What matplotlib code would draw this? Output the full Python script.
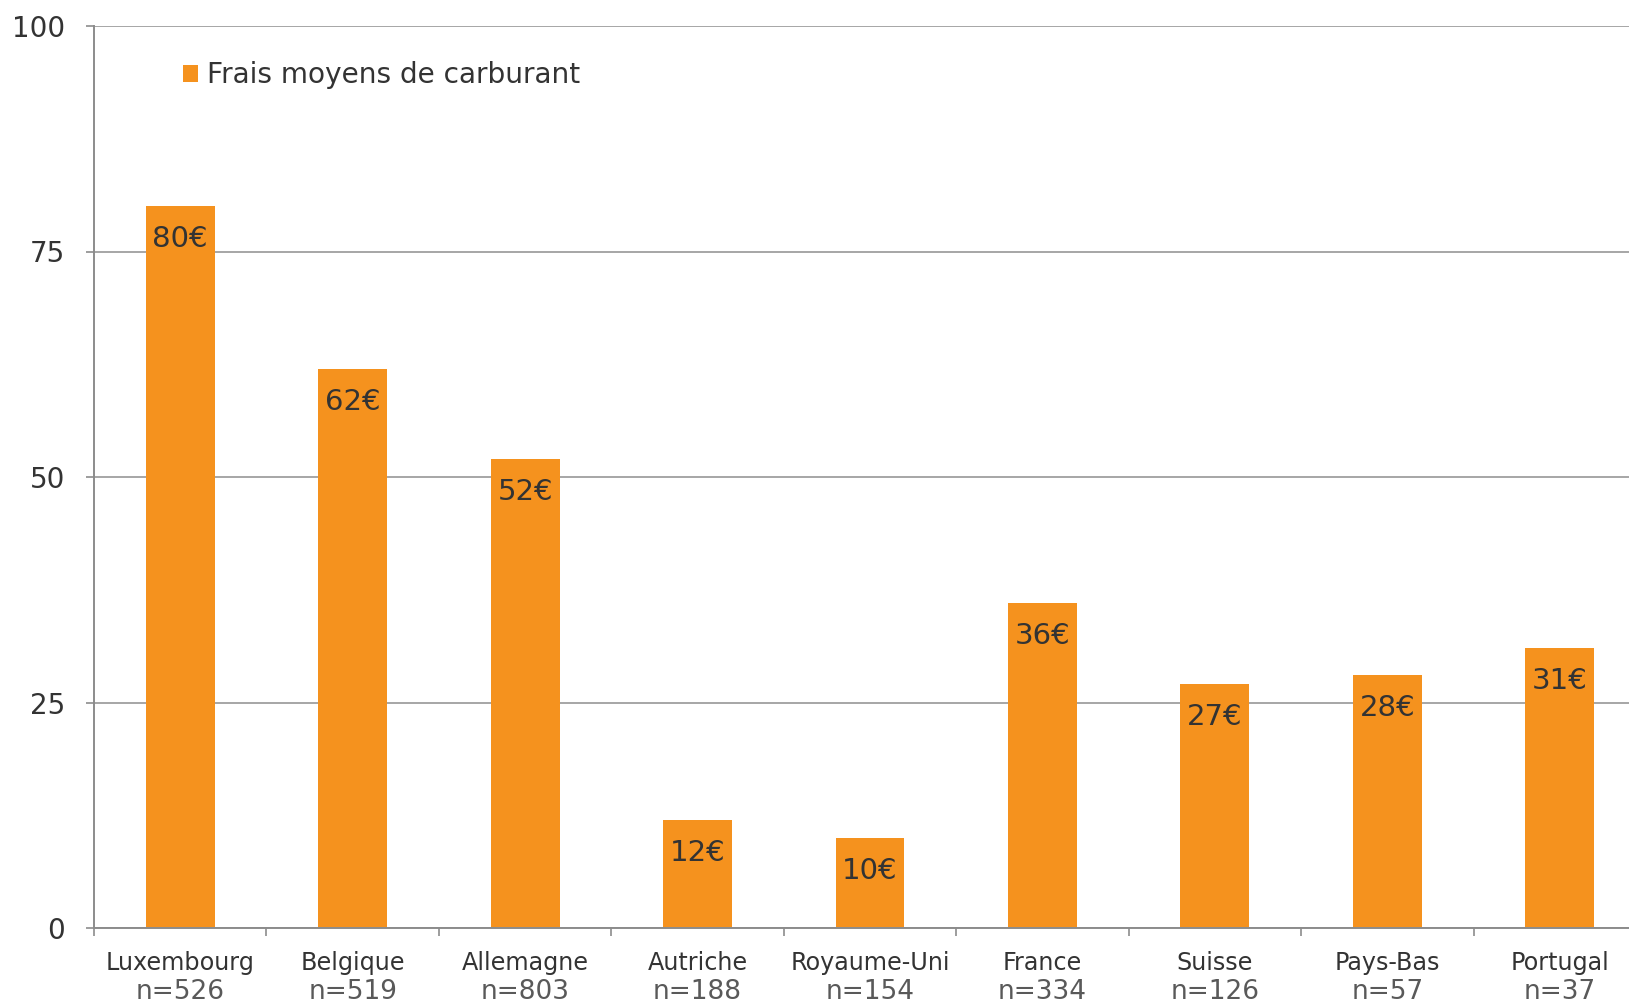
import matplotlib
matplotlib.use("Agg")
import matplotlib.pyplot as plt

categories = ["Luxembourg", "Belgique", "Allemagne", "Autriche", "Royaume-Uni",
              "France", "Suisse", "Pays-Bas", "Portugal"]
counts = ["n=526", "n=519", "n=803", "n=188", "n=154", "n=334", "n=126", "n=57", "n=37"]
values = [80, 62, 52, 12, 10, 36, 27, 28, 31]
series_name = "Frais moyens de carburant"
yticks = [0, 25, 50, 75, 100]

BAR = "#F5921E"
GRID = "#A6A6A6"
TXT = "#333333"
SUB = "#595959"

plt.rcParams["font.family"] = ["DejaVu Sans"]
W, H = 1629, 1002
fig = plt.figure(figsize=(W / 100, H / 100), dpi=100)
left = 94 / W
right = 1646 / W
top = 1 - 26 / H
bottom = 1 - 928 / H
ax = fig.add_axes([left, bottom, right - left, top - bottom])

x = list(range(len(categories)))
ax.bar(x, values, width=0.40, color=BAR, label=series_name, zorder=3)
ax.set_xlim(-0.5, len(categories) - 0.5)
ax.set_ylim(0, 100)
ax.set_yticks(yticks)
ax.set_yticklabels([str(v) for v in yticks])
ax.yaxis.grid(True, color=GRID, linewidth=1.4, zorder=0)
ax.set_axisbelow(True)

for s in ["top", "right"]:
    ax.spines[s].set_visible(False)
for s in ["left", "bottom"]:
    ax.spines[s].set_color("#8C8C8C")
    ax.spines[s].set_linewidth(1.4)
    ax.spines[s].set_zorder(4)

ax.tick_params(axis="y", length=6, width=1.2, color="#8C8C8C", pad=15,
               labelsize=20, labelcolor=TXT)
ax.set_xticks([i - 0.5 for i in range(len(categories) + 1)])
ax.set_xticklabels([])
ax.tick_params(axis="x", length=6, width=1.2, color="#8C8C8C")

for i, (c, n, v) in enumerate(zip(categories, counts, values)):
    ax.annotate(c, xy=(i, 0), xycoords=("data", "axes fraction"),
                xytext=(0, -35), textcoords="offset pixels",
                ha="center", va="center", fontsize=17.2, color=TXT)
    ax.annotate(n, xy=(i, 0), xycoords=("data", "axes fraction"),
                xytext=(0, -64), textcoords="offset pixels",
                ha="center", va="center", fontsize=19, color=SUB)
    ax.annotate(f"{v}€", xy=(i, v), xycoords="data",
                xytext=(0, -33), textcoords="offset pixels",
                ha="center", va="center", fontsize=21, color=TXT, zorder=5)

leg = ax.legend(loc="center left", bbox_to_anchor=(183 / W, 1 - 75 / H),
                bbox_transform=fig.transFigure, frameon=False, fontsize=20.2,
                handlelength=0.55, handleheight=0.55, handletextpad=0.3,
                borderpad=0, borderaxespad=0)
for t in leg.get_texts():
    t.set_color(TXT)

fig.savefig("out.png", dpi=100)
